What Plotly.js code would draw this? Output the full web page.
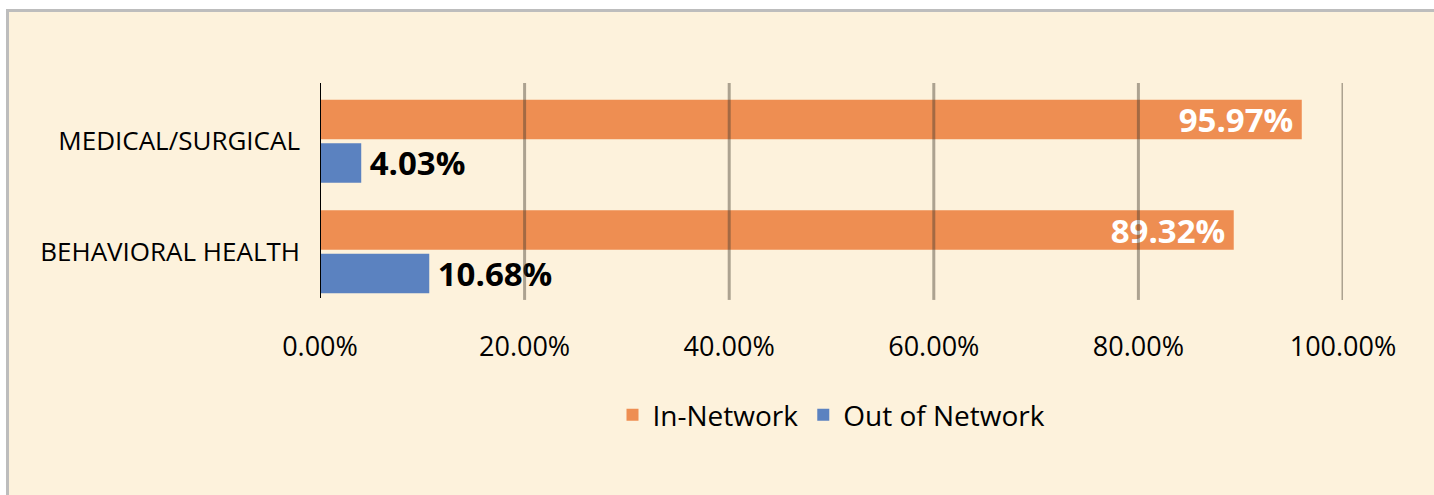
<!DOCTYPE html>
<html>
<head>
<meta charset="utf-8">
<script src="https://cdn.plot.ly/plotly-3.0.1.min.js"></script>
<style>
  html, body { margin: 0; padding: 0; background: #ffffff; width: 1434px; height: 495px; overflow: hidden; }
  #frame { position: absolute; left: 6px; top: 9px; width: 1428px; height: 486px;
           border-left: 3px solid #BDBDBD; border-top: 3px solid #BDBDBD; background: #FDF2DC; }
  #chart { position: absolute; left: 0; top: 0; width: 1425px; height: 483px; }
</style>
</head>
<body>
<div id="frame"><div id="chart"></div></div>
<script>
const categories = ["MEDICAL/SURGICAL", "BEHAVIORAL HEALTH"];
const inNetwork = [95.97, 89.32];
const outOfNetwork = [4.03, 10.68];
const seriesNames = ["In-Network", "Out of Network"];
const tickValues = [0, 20, 40, 60, 80, 100];
const tickLabels = tickValues.map(v => v.toFixed(2) + "%");

const FONT = "Open Sans, Noto Sans, sans-serif";

const traces = [
  {
    type: "bar", orientation: "h", name: seriesNames[0],
    y: categories, x: inNetwork,
    marker: { color: "#EE8E52" },
    texttemplate: "%{x:.2f}%\u2009", textposition: "inside", insidetextanchor: "end",
    constraintext: "none",
    textfont: { family: FONT, size: 33, color: "#ffffff", weight: "bold" },
    cliponaxis: false, hoverinfo: "skip"
  },
  {
    type: "bar", orientation: "h", name: seriesNames[1],
    y: categories, x: outOfNetwork,
    marker: { color: "#5B82C0" },
    texttemplate: "\u2009%{x:.2f}%", textposition: "outside",
    constraintext: "none",
    textfont: { family: FONT, size: 33, color: "#000000", weight: "bold" },
    cliponaxis: false, hoverinfo: "skip"
  }
];

// plot area spans page y 86..307; gridlines page y 83..300, axis line 83..298
const gridShapes = tickValues.filter(v => v > 0).map(v => ({
  type: "line", xref: "x", yref: "paper", x0: v, x1: v, y0: 0.032, y1: 1.0136,
  line: { color: "rgba(69,60,47,0.44)", width: 3 }, layer: "above"
}));
const axisShape = {
  type: "line", xref: "x", yref: "paper", x0: tickValues[0], x1: tickValues[0], y0: 0.041, y1: 1.0136,
  line: { color: "#000000", width: 2 }, layer: "above"
};

const layout = {
  width: 1425, height: 483,
  paper_bgcolor: "#FDF2DC", plot_bgcolor: "#FDF2DC",
  margin: { l: 311, r: 91, t: 74, b: 188 },
  barmode: "group", bargap: 0.213, bargroupgap: 0.092,
  font: { family: FONT, color: "#000000" },
  showlegend: true,
  legend: {
    orientation: "h", x: 0.5, xanchor: "center", y: -0.489, yanchor: "middle",
    font: { family: FONT, size: 28, color: "#000000" },
    bgcolor: "rgba(0,0,0,0)", itemclick: false, itemdoubleclick: false
  },
  xaxis: {
    range: [0, 100], tickvals: tickValues, ticktext: tickLabels,
    showgrid: false, zeroline: false, showline: false, ticks: "",
    ticklabelstandoff: 21,
    tickfont: { family: FONT, size: 27, color: "#000000" }, fixedrange: true
  },
  yaxis: {
    autorange: "reversed", type: "category",
    showgrid: false, zeroline: false, showline: false, ticks: "", ticklabelstandoff: 19,
    tickfont: { family: FONT, size: 26, color: "#000000" }, fixedrange: true
  },
  shapes: gridShapes.concat([axisShape])
};

Plotly.newPlot("chart", traces, layout, { displayModeBar: false, staticPlot: true });
</script>
</body>
</html>
